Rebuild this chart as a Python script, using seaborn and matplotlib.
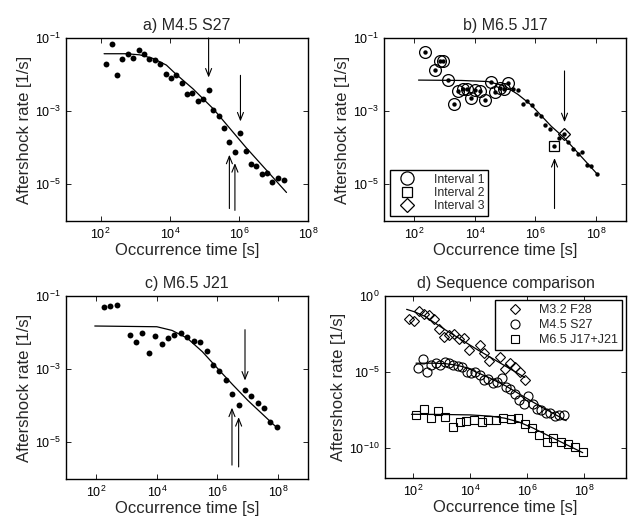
import numpy as np
import matplotlib
matplotlib.use("Agg")
import matplotlib.pyplot as plt
import seaborn as sns
from matplotlib.lines import Line2D
from matplotlib.ticker import NullLocator, LogFormatterMathtext

# ---------------- data (log10 values) ----------------
# a) M4.5 S27
a_logt = [2.17, 2.34, 2.48, 2.63, 2.79, 2.94, 3.11, 3.26, 3.41, 3.57, 3.72, 3.88,
          4.03, 4.18, 4.34, 4.49, 4.64, 4.80, 4.95, 5.12, 5.26, 5.41, 5.57, 5.72,
          5.88, 6.04, 6.19, 6.35, 6.50, 6.65, 6.81, 6.96, 7.12, 7.29]
a_logr = [-1.72, -1.17, -2.02, -1.58, -1.43, -1.54, -1.32, -1.45, -1.57, -1.61, -1.71, -1.98,
          -2.09, -2.01, -2.22, -2.54, -2.49, -2.71, -2.66, -2.42, -2.97, -3.14, -3.45, -3.83,
          -4.12, -3.59, -4.09, -4.44, -4.50, -4.71, -4.70, -4.93, -4.83, -4.87]
a_fit_logt = [2.10, 2.75, 3.13, 3.52, 3.90, 4.18, 4.67, 5.26, 6.19, 7.37]
a_fit_logr = [-1.43, -1.43, -1.46, -1.56, -1.74, -1.99, -2.39, -2.94, -3.98, -5.22]
a_down_logt = [5.12, 6.04]
a_down_from = [-1.0, -2.02]
a_down_to = [-2.08, -3.28]
a_up_logt = [5.72, 5.88]
a_up_from = [-5.66, -5.71]
a_up_to = [-4.19, -4.42]

# b) M6.5 J17
b_logt = [2.37, 2.67, 2.84, 2.96, 3.11, 3.31, 3.45, 3.61, 3.73, 3.88, 4.01, 4.18,
          4.33, 4.52, 4.67, 4.82, 4.96, 5.11, 5.27, 5.42, 5.58, 5.72, 5.87, 6.02,
          6.17, 6.31, 6.47, 6.62, 6.77, 6.94, 7.09, 7.25, 7.39, 7.53, 7.69, 7.84, 8.02]
b_logr = [-1.39, -1.88, -1.64, -1.62, -2.16, -2.79, -2.46, -2.40, -2.40, -2.63, -2.43, -2.45,
          -2.70, -2.19, -2.48, -2.36, -2.38, -2.22, -2.40, -2.43, -2.79, -2.71, -2.83, -3.09,
          -3.13, -3.37, -3.49, -3.95, -3.74, -3.61, -3.83, -4.02, -4.17, -4.11, -4.46, -4.50, -4.72]
b_interval1 = list(range(0, 18))
b_interval2 = [27]
b_interval3 = [29]
b_fit_logt = [2.14, 3.55, 4.43, 4.98, 5.42, 5.86, 6.52, 6.94, 8.02]
b_fit_logr = [-2.15, -2.16, -2.19, -2.31, -2.54, -2.83, -3.41, -3.72, -4.70]
b_down_logt = [6.96]
b_down_from = [-1.90]
b_down_to = [-3.30]
b_up_logt = [6.63]
b_up_from = [-5.66]
b_up_to = [-4.28]
b_legend_labels = ["Interval 1", "Interval 2", "Interval 3"]

# c) M6.5 J21
c_logt = [2.24, 2.46, 2.68, 3.12, 3.32, 3.52, 3.73, 3.94, 4.16, 4.36, 4.58, 4.80, 5.00,
          5.21, 5.42, 5.64, 5.84, 6.05, 6.27, 6.48, 6.70, 6.91, 7.11, 7.33, 7.55, 7.75, 7.96]
c_logr = [-1.30, -1.27, -1.24, -2.06, -2.27, -2.01, -2.55, -2.10, -2.31, -2.15, -2.07, -2.01, -2.13,
          -2.24, -2.27, -2.50, -2.89, -3.05, -3.29, -3.69, -3.98, -3.58, -3.73, -3.93, -4.05, -4.45, -4.57]
c_fit_logt = [1.95, 4.0, 4.5, 5.0, 5.5, 6.05, 6.5, 7.0, 7.94]
c_fit_logr = [-1.82, -1.84, -1.94, -2.15, -2.52, -3.02, -3.42, -3.85, -4.58]
c_down_logt = [6.91]
c_down_from = [-1.92]
c_down_to = [-3.31]
c_up_logt = [6.48, 6.70]
c_up_from = [-5.62, -5.67]
c_up_to = [-4.05, -4.31]

# d) Sequence comparison
d_labels = ["M3.2 F28", "M4.5 S27", "M6.5 J17+J21"]
d_dia_logt = [1.84, 2.04, 2.21, 2.39, 2.55, 2.74, 2.91, 3.09, 3.25, 3.44, 3.61, 3.79,
              3.96, 4.33, 4.50, 4.67, 5.03, 5.22, 5.39, 5.57, 5.74, 5.92]
d_dia_logr = [-1.54, -1.67, -1.01, -1.16, -1.27, -1.54, -2.19, -2.70, -2.54, -2.48, -2.83, -2.76,
              -3.57, -3.25, -3.79, -4.30, -4.01, -4.82, -4.41, -4.67, -5.00, -5.55]
d_dia_fit_logt = [1.77, 2.06, 2.41, 3.11, 4.28, 5.92]
d_dia_fit_logr = [-0.88, -1.05, -1.34, -2.21, -3.57, -5.37]
d_circ_logt = [2.17, 2.34, 2.48, 2.63, 2.79, 2.94, 3.11, 3.26, 3.41, 3.57, 3.72, 3.88,
               4.03, 4.18, 4.34, 4.49, 4.64, 4.80, 4.95, 5.12, 5.26, 5.41, 5.57, 5.72,
               5.88, 6.04, 6.19, 6.35, 6.50, 6.65, 6.81, 6.96, 7.12, 7.29]
d_circ_logr = [-4.72, -4.17, -5.02, -4.58, -4.43, -4.54, -4.32, -4.45, -4.57, -4.61, -4.71, -4.98,
               -5.09, -5.01, -5.22, -5.54, -5.49, -5.71, -5.66, -5.42, -5.97, -6.14, -6.45, -6.83,
               -7.12, -6.59, -7.09, -7.44, -7.50, -7.71, -7.70, -7.93, -7.83, -7.87]
d_circ_fit_logt = [2.10, 2.75, 3.13, 3.52, 3.90, 4.18, 4.67, 5.26, 6.19, 7.37]
d_circ_fit_logr = [-4.43, -4.43, -4.46, -4.56, -4.74, -4.99, -5.39, -5.94, -6.98, -8.22]
d_sq_logt = [2.09, 2.37, 2.62, 2.88, 3.13, 3.38, 3.64, 3.87, 4.13, 4.40, 4.63, 4.89,
             5.16, 5.43, 5.68, 5.92, 6.18, 6.43, 6.68, 6.92, 7.18, 7.43, 7.68, 7.95]
d_sq_logr = [-7.87, -7.46, -8.07, -7.57, -8.00, -8.62, -8.29, -8.22, -8.18, -8.29, -8.18, -8.18,
             -8.03, -8.14, -8.07, -8.42, -8.73, -9.19, -9.61, -9.39, -9.65, -9.76, -9.98, -10.31]
d_sq_fit_logt = [1.94, 3.0, 4.0, 4.7, 5.2, 5.7, 6.2, 7.0, 7.95]
d_sq_fit_logr = [-7.80, -7.81, -7.84, -7.92, -8.05, -8.30, -8.70, -9.45, -10.33]

titles = ["a) M4.5 S27", "b) M6.5 J17", "c) M6.5 J21", "d) Sequence comparison"]
xlabel = "Occurrence time [s]"
ylabel = "Aftershock rate [1/s]"

# ---------------- style ----------------
sns.set_theme(style="ticks")
plt.rcParams["font.family"] = ["Liberation Sans", "DejaVu Sans"]
plt.rcParams["mathtext.fontset"] = "custom"
plt.rcParams["mathtext.rm"] = "Liberation Sans"
plt.rcParams["mathtext.it"] = "Liberation Sans:italic"
plt.rcParams["mathtext.default"] = "regular"

P = lambda v: 10.0 ** np.asarray(v, dtype=float)

fig = plt.figure(figsize=(6.32, 5.22), dpi=100)
W, H = 632.0, 522.0


def make_ax(left, right, top, bottom):
    return fig.add_axes([left / W, 1 - bottom / H, (right - left) / W, (bottom - top) / H])


ax_a = make_ax(66, 308.3, 38, 221)
ax_b = make_ax(384, 626.3, 38, 221)
ax_c = make_ax(66, 308.3, 296, 479)
ax_d = make_ax(384.7, 626.3, 296, 478)


def style(ax, xlim, ylim, xticks, yticks, title):
    ax.set_xscale("log")
    ax.set_yscale("log")
    ax.set_xlim(*xlim)
    ax.set_ylim(*ylim)
    ax.set_xticks(xticks)
    ax.set_yticks(yticks)
    ax.xaxis.set_minor_locator(NullLocator())
    ax.yaxis.set_minor_locator(NullLocator())
    ax.xaxis.set_major_formatter(LogFormatterMathtext())
    ax.yaxis.set_major_formatter(LogFormatterMathtext())
    ax.tick_params(which="both", direction="in", top=True, right=True,
                   length=3.5, width=0.6, labelsize=9, pad=4, colors="black")
    for s in ax.spines.values():
        s.set_visible(True)
        s.set_linewidth(1.0)
        s.set_color("black")
    ax.set_title(title, fontsize=11.5, pad=6)
    ax.set_xlabel(xlabel, fontsize=12, labelpad=1)
    ax.set_ylabel(ylabel, fontsize=12, labelpad=2)


def arrows(ax, xs, y0s, y1s):
    for x, y0, y1 in zip(xs, y0s, y1s):
        ax.annotate("", xy=(10 ** x, 10 ** y1), xytext=(10 ** x, 10 ** y0),
                    arrowprops=dict(arrowstyle="->,head_length=0.45,head_width=0.18",
                                    color="black", lw=0.8, shrinkA=0, shrinkB=0))


def fitline(ax, lx, ly):
    sns.lineplot(x=P(lx), y=P(ly), ax=ax, color="black", lw=0.9,
                 sort=False, estimator=None)


def filled(ax, lx, ly, s):
    sns.scatterplot(x=P(lx), y=P(ly), ax=ax, color="black", s=s, linewidth=0,
                    marker="o", zorder=3)


def opened(ax, lx, ly, marker, ms, mew=0.9):
    sns.lineplot(x=P(lx), y=P(ly), ax=ax, linestyle="none", marker=marker, ms=ms,
                 mfc="none", mec="black", mew=mew, sort=False, estimator=None, zorder=4)


for ax in (ax_a, ax_b, ax_c, ax_d):
    ax.set_xscale("log")
    ax.set_yscale("log")

# ---- a ----
fitline(ax_a, a_fit_logt, a_fit_logr)
filled(ax_a, a_logt, a_logr, 18)
arrows(ax_a, a_down_logt, a_down_from, a_down_to)
arrows(ax_a, a_up_logt, a_up_from, a_up_to)
style(ax_a, (1e1, 1e8), (1e-6, 1e-1), [1e2, 1e4, 1e6, 1e8], [1e-5, 1e-3, 1e-1], titles[0])

# ---- b ----
fitline(ax_b, b_fit_logt, b_fit_logr)
filled(ax_b, b_logt, b_logr, 10)
opened(ax_b, [b_logt[i] for i in b_interval1], [b_logr[i] for i in b_interval1], "o", 8.5)
opened(ax_b, [b_logt[i] for i in b_interval2], [b_logr[i] for i in b_interval2], "s", 6.5)
opened(ax_b, [b_logt[i] for i in b_interval3], [b_logr[i] for i in b_interval3], "D", 6.0)
arrows(ax_b, b_down_logt, b_down_from, b_down_to)
arrows(ax_b, b_up_logt, b_up_from, b_up_to)
style(ax_b, (1e1, 1e9), (1e-6, 1e-1), [1e2, 1e4, 1e6, 1e8], [1e-5, 1e-3, 1e-1], titles[1])
hb = [Line2D([], [], linestyle="none", marker=m, ms=s, mfc="none", mec="black", mew=0.9)
      for m, s in zip(["o", "s", "D"], [9.5, 7.5, 7.5])]
leg = ax_b.legend(hb, b_legend_labels, loc="lower left", fontsize=8.8, frameon=True,
                  fancybox=False, framealpha=1, edgecolor="black", borderaxespad=0.45,
                  handletextpad=1.0, labelspacing=0.12, borderpad=0.25, handlelength=2.4)
leg.get_frame().set_linewidth(1.0)

# ---- c ----
fitline(ax_c, c_fit_logt, c_fit_logr)
filled(ax_c, c_logt, c_logr, 18)
arrows(ax_c, c_down_logt, c_down_from, c_down_to)
arrows(ax_c, c_up_logt, c_up_from, c_up_to)
style(ax_c, (1e1, 1e9), (1e-6, 1e-1), [1e2, 1e4, 1e6, 1e8], [1e-5, 1e-3, 1e-1], titles[2])

# ---- d ----
fitline(ax_d, d_dia_fit_logt, d_dia_fit_logr)
fitline(ax_d, d_circ_fit_logt, d_circ_fit_logr)
fitline(ax_d, d_sq_fit_logt, d_sq_fit_logr)
opened(ax_d, d_dia_logt, d_dia_logr, "D", 5.5, 0.8)
opened(ax_d, d_circ_logt, d_circ_logr, "o", 6.5, 0.8)
opened(ax_d, d_sq_logt, d_sq_logr, "s", 5.5, 0.8)
style(ax_d, (1e1, 10 ** 9.48), (1e-12, 1e0), [1e2, 1e4, 1e6, 1e8], [1e-10, 1e-5, 1e0], titles[3])
hd = [Line2D([], [], linestyle="none", marker=m, ms=s, mfc="none", mec="black", mew=0.8)
      for m, s in zip(["D", "o", "s"], [5.5, 6.5, 5.5])]
leg2 = ax_d.legend(hd, d_labels, loc="upper right", fontsize=9, frameon=True,
                   fancybox=False, framealpha=1, edgecolor="black", borderaxespad=0.35,
                   handletextpad=0.6, labelspacing=0.25, borderpad=0.3, handlelength=2.6)
leg2.get_frame().set_linewidth(1.0)

fig.savefig("out.png", dpi=100)
